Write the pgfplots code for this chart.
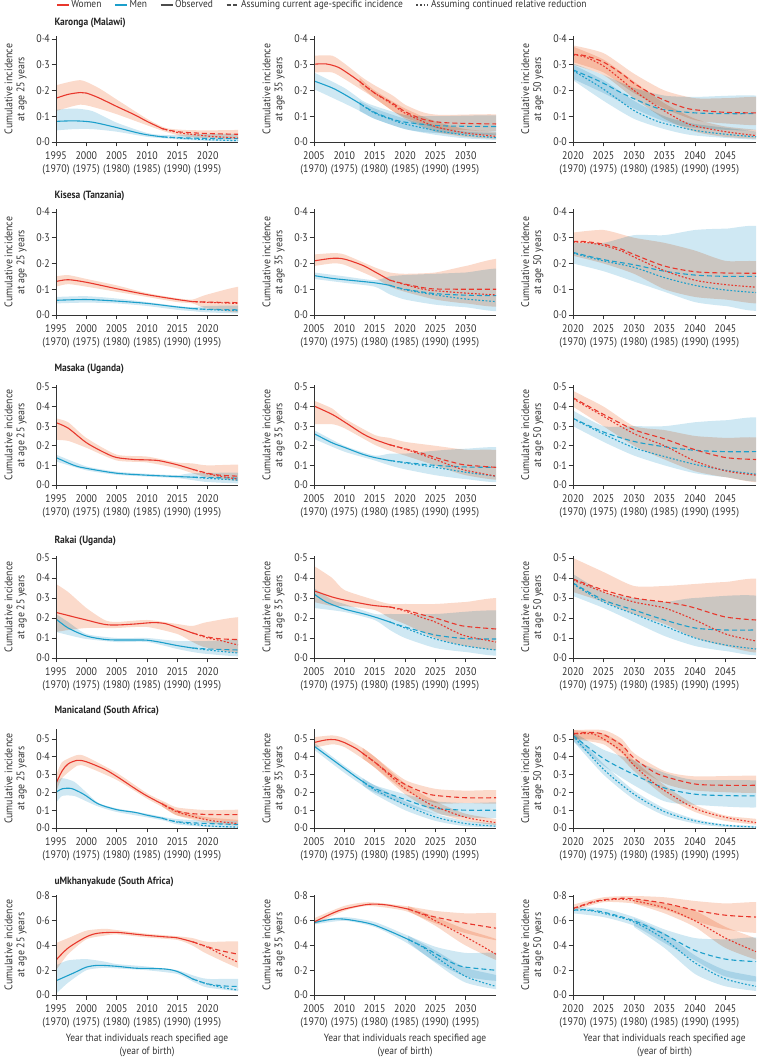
\documentclass[border=0pt]{standalone}
\usepackage{pgfplots}
\pgfplotsset{compat=1.18}
\usepackage{fontspec}
\setmainfont{PT Sans}[FakeStretch=0.9]

\definecolor{cwom}{HTML}{E8372C}
\definecolor{cmen}{HTML}{1C9FCB}
\definecolor{bwom}{HTML}{FBDACB}
\definecolor{bmen}{HTML}{CFE8F3}
\definecolor{axc}{HTML}{333333}

\pgfplotsset{
  base/.style={scale only axis, anchor=south west, axis lines=left, axis on top,
    axis line style={-, draw=axc, line width=0.8pt},
    tick align=outside, major tick length=4.5pt, tick style={axc, line width=0.8pt},
    tick label style={font=\fontsize{11}{12.5}\selectfont, text=axc},
    xticklabel style={align=center, inner sep=1.5pt, yshift=-3.5pt}, yticklabel style={inner sep=1.5pt},
    every axis y label/.style={at={(axis description cs:-0.16,0.5)}, rotate=90, anchor=south,
      align=center, inner sep=0pt, font=\fontsize{11}{12}\selectfont, text=axc}},
  c1/.style={xmin=1995, xmax=2025, width=182pt, xtick={1995,2000,2005,2010,2015,2020},
    xticklabels={{1995\\(1970)},{2000\\(1975)},{2005\\(1980)},{2010\\(1985)},{2015\\(1990)},{2020\\(1995)}},
    ylabel={Cumulative incidence\\at age 25 years}},
  c2/.style={xmin=2005, xmax=2035, width=182pt, xtick={2005,2010,2015,2020,2025,2030},
    xticklabels={{2005\\(1970)},{2010\\(1975)},{2015\\(1980)},{2020\\(1985)},{2025\\(1990)},{2030\\(1995)}},
    ylabel={Cumulative incidence\\at age 35 years}},
  c3/.style={xmin=2020, xmax=2050, width=183pt, xtick={2020,2025,2030,2035,2040,2045},
    xticklabels={{2020\\(1970)},{2025\\(1975)},{2030\\(1980)},{2035\\(1985)},{2040\\(1990)},{2045\\(1995)}},
    ylabel={Cumulative incidence\\at age 50 years}},
  r4/.style={ymin=0, ymax=0.41, ytick={0,0.1,0.2,0.3,0.4}, yticklabels={0·0,0·1,0·2,0·3,0·4}},
  r5/.style={ymin=0, ymax=0.51, ytick={0,0.1,0.2,0.3,0.4,0.5}, yticklabels={0·0,0·1,0·2,0·3,0·4,0·5}},
  r55/.style={ymin=0, ymax=0.555, ytick={0,0.1,0.2,0.3,0.4,0.5}, yticklabels={0·0,0·1,0·2,0·3,0·4,0·5}},
  r8/.style={ymin=0, ymax=0.81, ytick={0,0.2,0.4,0.6,0.8}, yticklabels={0·0,0·2,0·4,0·6,0·8}},
  bottom/.style={xlabel={Year that individuals reach specified age\\(year of birth)},
    every axis x label/.style={at={(axis description cs:0.5,-0.385)}, anchor=north, align=center,
      inner sep=0pt, font=\fontsize{10.5}{13}\selectfont, text=axc}},
  WB/.style={fill=bwom, draw=none, blend mode=multiply, smooth, tension=0.4, forget plot},
  MB/.style={fill=bmen, draw=none, blend mode=multiply, smooth, tension=0.4, forget plot},
  WS/.style={cwom, line width=1.1pt, smooth, forget plot},
  WD/.style={cwom, line width=1.1pt, smooth, dash pattern=on 5pt off 3pt, forget plot},
  WT/.style={cwom, line width=1.1pt, smooth, dash pattern=on 1.8pt off 1.8pt, forget plot},
  MS/.style={cmen, line width=1.1pt, smooth, forget plot},
  MD/.style={cmen, line width=1.1pt, smooth, dash pattern=on 5pt off 3pt, forget plot},
  MT/.style={cmen, line width=1.1pt, smooth, dash pattern=on 1.8pt off 1.8pt, forget plot},
}

\begin{document}
\begin{tikzpicture}
\useasboundingbox (0,0) rectangle (757pt,1057pt);

% legend
\begin{axis}[hide axis, scale only axis, width=5pt, height=5pt, xmin=0, xmax=1, ymin=0, ymax=1,
  at={(56pt,1052pt)}, anchor=west,
  legend style={at={(axis description cs:0,0.5)}, anchor=west, draw=none, fill=none, inner sep=0pt,
    font=\fontsize{10.5}{12}\selectfont, text=axc, legend columns=5,
    /tikz/every even column/.append style={column sep=11pt}},
  legend image code/.code={\draw[#1] (0pt,0pt) -- (12pt,0pt);}]
\addlegendimage{cwom, line width=1.1pt}\addlegendentry{Women}
\addlegendimage{cmen, line width=1.1pt}\addlegendentry{Men}
\addlegendimage{black!70, line width=1.1pt}\addlegendentry{Observed}
\addlegendimage{black!70, line width=1.1pt, dash pattern=on 4pt off 2.5pt}\addlegendentry{Assuming current age-specific incidence}
\addlegendimage{black!70, line width=1.1pt, dash pattern=on 1.8pt off 1.8pt}\addlegendentry{Assuming continued relative reduction}
\end{axis}

\begin{scope}[font=\bfseries\fontsize{10.5}{12}\selectfont]
\node[anchor=west, text=black!85] at (51pt,1034pt) {Karonga (Malawi)};
\node[anchor=west, text=black!85] at (51pt,861pt) {Kisesa (Tanzania)};
\node[anchor=west, text=black!85] at (51pt,688pt) {Masaka (Uganda)};
\node[anchor=west, text=black!85] at (51pt,516pt) {Rakai (Uganda)};
\node[anchor=west, text=black!85] at (51pt,346pt) {Manicaland (South Africa)};
\node[anchor=west, text=black!85] at (51pt,175pt) {uMkhanyakude (South Africa)};
\end{scope}

%================ Row 1: Karonga
\begin{axis}[base, c1, r4, height=105.6pt, at={(56pt,915pt)}]
\addplot[WB] coordinates {(1995,0.22)(1999,0.24)(2002,0.21)(2005,0.165)(2010,0.09)(2013,0.055)(2016,0.047)(2020,0.045)(2026.5,0.045)
 (2026.5,0.012)(2020,0.015)(2016,0.022)(2013,0.04)(2010,0.065)(2005,0.108)(2002,0.13)(1999,0.145)(1995,0.12)};
\addplot[MB] coordinates {(1995,0.125)(1998,0.13)(2001,0.12)(2005,0.075)(2010,0.035)(2013,0.027)(2018,0.03)(2026.5,0.03)
 (2026.5,0.002)(2018,0.006)(2013,0.014)(2010,0.02)(2005,0.04)(2001,0.05)(1998,0.05)(1995,0.045)};
\addplot[MS] coordinates {(1995,0.08)(1998,0.082)(2001,0.077)(2005,0.056)(2008,0.038)(2010,0.028)(2012.5,0.02)};
\addplot[MD] coordinates {(2012.5,0.02)(2016,0.016)(2020,0.014)(2025,0.013)};
\addplot[MT] coordinates {(2012.5,0.02)(2016,0.014)(2020,0.009)(2025,0.005)};
\addplot[WS] coordinates {(1995,0.17)(1997,0.185)(1999,0.192)(2000,0.19)(2002,0.172)(2005,0.138)(2008,0.105)(2010,0.08)(2012.5,0.052)};
\addplot[WD] coordinates {(2012.5,0.052)(2015,0.04)(2018,0.035)(2021,0.032)(2025,0.03)};
\addplot[WT] coordinates {(2012.5,0.052)(2015,0.037)(2018,0.028)(2021,0.021)(2025,0.016)};
\end{axis}

\begin{axis}[base, c2, r4, height=105.6pt, at={(314pt,915pt)}]
\addplot[WB] coordinates {(2005,0.335)(2008,0.335)(2010,0.305)(2013,0.25)(2015,0.22)(2018,0.18)(2020,0.145)(2023,0.115)(2026,0.105)(2036.5,0.105)
 (2036.5,0.045)(2030,0.046)(2026,0.05)(2023,0.07)(2020,0.095)(2018,0.12)(2015,0.17)(2013,0.2)(2010,0.245)(2008,0.27)(2005,0.27)};
\addplot[WB] coordinates {(2012.5,0.25)(2015,0.2)(2020,0.13)(2025,0.08)(2030,0.05)(2036.5,0.035)
 (2036.5,0.012)(2030,0.02)(2025,0.04)(2020,0.09)(2015,0.17)(2012.5,0.22)};
\addplot[MB] coordinates {(2005,0.27)(2010,0.21)(2013,0.16)(2015,0.14)(2020,0.105)(2025,0.1)(2036.5,0.1)
 (2036.5,0.03)(2025,0.035)(2020,0.05)(2015,0.09)(2013,0.115)(2010,0.15)(2005,0.205)};
\addplot[MB] coordinates {(2012.5,0.16)(2015,0.13)(2020,0.09)(2025,0.06)(2030,0.04)(2036.5,0.03)
 (2036.5,0.008)(2030,0.014)(2025,0.028)(2020,0.05)(2015,0.09)(2012.5,0.12)};
\addplot[MS] coordinates {(2005,0.237)(2008,0.21)(2010,0.185)(2012.5,0.15)};
\addplot[MD] coordinates {(2012.5,0.15)(2015,0.115)(2018,0.088)(2020,0.077)(2025,0.064)(2030,0.061)(2035,0.06)};
\addplot[MT] coordinates {(2012.5,0.15)(2015,0.112)(2018,0.085)(2020,0.07)(2025,0.045)(2030,0.027)(2035,0.017)};
\addplot[WS] coordinates {(2005,0.302)(2007,0.303)(2009,0.29)(2011,0.26)(2012.5,0.235)};
\addplot[WD] coordinates {(2012.5,0.235)(2015,0.19)(2018,0.15)(2020,0.118)(2023,0.088)(2026,0.076)(2030,0.072)(2035,0.07)};
\addplot[WT] coordinates {(2012.5,0.235)(2015,0.19)(2018,0.145)(2020,0.112)(2025,0.06)(2030,0.035)(2035,0.022)};
\end{axis}

\begin{axis}[base, c3, r4, height=105.6pt, at={(573pt,915pt)}]
\addplot[WB] coordinates {(2020,0.375)(2025,0.345)(2030,0.265)(2035,0.2)(2040,0.17)(2045,0.17)(2051.5,0.17)
 (2051.5,0.07)(2045,0.072)(2040,0.085)(2035,0.13)(2030,0.19)(2025,0.27)(2020,0.31)};
\addplot[WB] coordinates {(2020,0.37)(2025,0.32)(2030,0.235)(2035,0.15)(2040,0.09)(2045,0.06)(2051.5,0.042)
 (2051.5,0.013)(2045,0.02)(2040,0.04)(2035,0.09)(2030,0.17)(2025,0.26)(2020,0.3)};
\addplot[MB] coordinates {(2020,0.305)(2025,0.26)(2030,0.21)(2035,0.18)(2040,0.175)(2051.5,0.175)
 (2051.5,0.05)(2040,0.055)(2035,0.08)(2030,0.13)(2025,0.19)(2020,0.245)};
\addplot[MB] coordinates {(2020,0.3)(2025,0.24)(2030,0.16)(2035,0.1)(2040,0.07)(2051.5,0.035)
 (2051.5,0.008)(2040,0.025)(2035,0.05)(2030,0.09)(2025,0.16)(2020,0.24)};
\addplot[MD] coordinates {(2020,0.28)(2023,0.25)(2025,0.228)(2028,0.19)(2030,0.168)(2033,0.138)(2035,0.125)(2040,0.113)(2045,0.11)(2050,0.11)};
\addplot[MT] coordinates {(2020,0.277)(2023,0.235)(2025,0.205)(2028,0.155)(2030,0.122)(2033,0.088)(2035,0.072)(2040,0.045)(2045,0.03)(2050,0.02)};
\addplot[WD] coordinates {(2020,0.34)(2022,0.335)(2025,0.31)(2028,0.265)(2030,0.228)(2033,0.185)(2035,0.162)(2038,0.135)(2040,0.125)(2045,0.115)(2050,0.113)};
\addplot[WT] coordinates {(2020,0.338)(2022,0.33)(2025,0.295)(2028,0.24)(2030,0.2)(2033,0.15)(2035,0.12)(2038,0.08)(2040,0.062)(2045,0.04)(2050,0.025)};
\end{axis}

%================ Row 2: Kisesa
\begin{axis}[base, c1, r4, height=105.6pt, at={(56pt,742pt)}]
\addplot[WB] coordinates {(1995,0.15)(1997,0.155)(2000,0.14)(2005,0.115)(2010,0.085)(2015,0.065)(2017.5,0.06)(2020,0.08)(2026.5,0.112)
 (2026.5,0.012)(2020,0.025)(2017.5,0.045)(2015,0.05)(2010,0.07)(2005,0.09)(2000,0.11)(1997,0.12)(1995,0.11)};
\addplot[MB] coordinates {(1995,0.07)(2000,0.073)(2005,0.064)(2010,0.05)(2015,0.035)(2017.5,0.03)(2020,0.035)(2026.5,0.035)
 (2026.5,0.007)(2020,0.01)(2017.5,0.015)(2015,0.02)(2010,0.035)(2005,0.045)(2000,0.048)(1995,0.045)};
\addplot[MS] coordinates {(1995,0.057)(2000,0.06)(2005,0.054)(2010,0.045)(2015,0.031)(2017.5,0.025)};
\addplot[MD] coordinates {(2017.5,0.025)(2020,0.022)(2025,0.02)};
\addplot[MT] coordinates {(2017.5,0.025)(2020,0.021)(2025,0.017)};
\addplot[WS] coordinates {(1995,0.13)(1997,0.137)(2000,0.127)(2005,0.102)(2010,0.079)(2015,0.06)(2017.5,0.052)};
\addplot[WD] coordinates {(2017.5,0.052)(2020,0.05)(2025,0.048)};
\addplot[WT] coordinates {(2017.5,0.052)(2020,0.049)(2025,0.045)};
\end{axis}

\begin{axis}[base, c2, r4, height=105.6pt, at={(314pt,742pt)}]
\addplot[WB] coordinates {(2005,0.235)(2008,0.24)(2010,0.235)(2015,0.185)(2017.5,0.165)(2020,0.16)(2025,0.165)(2030,0.19)(2036.5,0.215)
 (2036.5,0.04)(2030,0.045)(2025,0.06)(2020,0.09)(2017.5,0.11)(2015,0.145)(2010,0.195)(2008,0.2)(2005,0.19)};
\addplot[MB] coordinates {(2005,0.165)(2010,0.15)(2015,0.135)(2017.5,0.15)(2020,0.155)(2025,0.16)(2030,0.165)(2036.5,0.175)
 (2036.5,0.02)(2030,0.03)(2025,0.04)(2020,0.06)(2017.5,0.08)(2015,0.11)(2010,0.125)(2005,0.14)};
\addplot[MS] coordinates {(2005,0.153)(2008,0.142)(2010,0.137)(2015,0.125)(2017.5,0.115)};
\addplot[MD] coordinates {(2017.5,0.115)(2020,0.1)(2025,0.083)(2030,0.077)(2035,0.075)};
\addplot[MT] coordinates {(2017.5,0.115)(2020,0.098)(2025,0.078)(2030,0.062)(2035,0.052)};
\addplot[WS] coordinates {(2005,0.21)(2008,0.22)(2010,0.217)(2013,0.193)(2015,0.168)(2017.5,0.135)};
\addplot[WD] coordinates {(2017.5,0.135)(2020,0.12)(2023,0.106)(2025,0.101)(2030,0.1)(2035,0.1)};
\addplot[WT] coordinates {(2017.5,0.135)(2020,0.118)(2023,0.1)(2025,0.094)(2030,0.085)(2035,0.078)};
\end{axis}

\begin{axis}[base, c3, r4, height=105.6pt, at={(573pt,742pt)}]
\addplot[WB] coordinates {(2020,0.32)(2025,0.33)(2030,0.3)(2035,0.28)(2040,0.25)(2045,0.21)(2051.5,0.2)
 (2051.5,0.05)(2045,0.06)(2040,0.07)(2035,0.1)(2030,0.16)(2025,0.2)(2020,0.23)};
\addplot[MB] coordinates {(2020,0.28)(2025,0.28)(2030,0.31)(2035,0.31)(2040,0.33)(2045,0.335)(2051.5,0.33)
 (2051.5,0.03)(2045,0.035)(2040,0.05)(2035,0.09)(2030,0.13)(2025,0.17)(2020,0.2)};
\addplot[MD] coordinates {(2020,0.243)(2025,0.215)(2030,0.195)(2035,0.17)(2040,0.155)(2045,0.15)(2050,0.15)};
\addplot[MT] coordinates {(2020,0.24)(2025,0.21)(2030,0.185)(2035,0.145)(2040,0.115)(2045,0.097)(2050,0.087)};
\addplot[WD] coordinates {(2020,0.285)(2022,0.285)(2025,0.275)(2028,0.255)(2030,0.235)(2035,0.19)(2040,0.168)(2045,0.163)(2050,0.162)};
\addplot[WT] coordinates {(2020,0.283)(2022,0.282)(2025,0.27)(2028,0.248)(2030,0.225)(2035,0.172)(2040,0.135)(2045,0.118)(2050,0.108)};
\end{axis}

%================ Row 3: Masaka
\begin{axis}[base, c1, r5, height=100pt, at={(56pt,572pt)}]
\addplot[WB] coordinates {(1995,0.34)(1997,0.32)(2000,0.24)(2005,0.155)(2010,0.145)(2015,0.115)(2017.5,0.11)(2020,0.1)(2026.5,0.1)
 (2026.5,0.02)(2020,0.04)(2017.5,0.06)(2015,0.085)(2010,0.115)(2005,0.125)(2000,0.19)(1997,0.225)(1995,0.23)};
\addplot[MB] coordinates {(1995,0.155)(2000,0.095)(2005,0.068)(2010,0.057)(2015,0.05)(2017.5,0.06)(2026.5,0.06)
 (2026.5,0.01)(2020,0.015)(2017.5,0.025)(2015,0.035)(2010,0.043)(2005,0.052)(2000,0.075)(1995,0.12)};
\addplot[MS] coordinates {(1995,0.14)(1998,0.1)(2000,0.085)(2005,0.06)(2010,0.05)(2015,0.043)(2017.5,0.04)};
\addplot[MD] coordinates {(2017.5,0.04)(2020,0.038)(2025,0.035)};
\addplot[MT] coordinates {(2017.5,0.04)(2020,0.034)(2025,0.025)};
\addplot[WS] coordinates {(1995,0.318)(1997,0.29)(2000,0.216)(2003,0.165)(2005,0.14)(2008,0.13)(2010,0.128)(2012,0.124)(2015,0.103)(2017.5,0.08)};
\addplot[WD] coordinates {(2017.5,0.08)(2020,0.06)(2022,0.05)(2025,0.045)};
\addplot[WT] coordinates {(2017.5,0.08)(2020,0.057)(2022,0.045)(2025,0.03)};
\end{axis}

\begin{axis}[base, c2, r5, height=100pt, at={(314pt,572pt)}]
\addplot[WB] coordinates {(2005,0.43)(2008,0.39)(2010,0.34)(2015,0.255)(2017.5,0.24)(2020,0.22)(2025,0.2)(2030,0.18)(2036.5,0.17)
 (2036.5,0.03)(2030,0.05)(2025,0.1)(2020,0.15)(2017.5,0.175)(2015,0.205)(2010,0.29)(2008,0.31)(2005,0.31)};
\addplot[MB] coordinates {(2005,0.28)(2010,0.2)(2015,0.15)(2017.5,0.16)(2020,0.16)(2025,0.175)(2030,0.185)(2036.5,0.185)
 (2036.5,0.02)(2030,0.03)(2025,0.05)(2020,0.08)(2017.5,0.1)(2015,0.125)(2010,0.17)(2005,0.235)};
\addplot[MS] coordinates {(2005,0.262)(2008,0.215)(2010,0.192)(2013,0.157)(2015,0.14)(2017.5,0.125)};
\addplot[MD] coordinates {(2017.5,0.125)(2020,0.115)(2025,0.1)(2030,0.092)(2035,0.09)};
\addplot[MT] coordinates {(2017.5,0.125)(2020,0.112)(2025,0.09)(2030,0.065)(2035,0.045)};
\addplot[WS] coordinates {(2005,0.403)(2008,0.36)(2010,0.322)(2013,0.262)(2015,0.232)(2017.5,0.205)};
\addplot[WD] coordinates {(2017.5,0.205)(2020,0.185)(2023,0.16)(2025,0.14)(2028,0.115)(2030,0.102)(2035,0.09)};
\addplot[WT] coordinates {(2017.5,0.205)(2020,0.183)(2023,0.152)(2025,0.13)(2028,0.095)(2030,0.075)(2035,0.045)};
\end{axis}

\begin{axis}[base, c3, r5, height=100pt, at={(573pt,572pt)}]
\addplot[WB] coordinates {(2020,0.48)(2025,0.4)(2030,0.3)(2035,0.28)(2040,0.25)(2045,0.24)(2051.5,0.23)
 (2051.5,0.02)(2045,0.04)(2040,0.07)(2035,0.13)(2030,0.2)(2025,0.3)(2020,0.4)};
\addplot[MB] coordinates {(2020,0.38)(2025,0.3)(2030,0.3)(2035,0.3)(2040,0.32)(2045,0.33)(2051.5,0.33)
 (2051.5,0.03)(2045,0.04)(2040,0.06)(2035,0.1)(2030,0.15)(2025,0.22)(2020,0.3)};
\addplot[MD] coordinates {(2020,0.34)(2025,0.27)(2030,0.222)(2035,0.195)(2040,0.177)(2045,0.17)(2050,0.17)};
\addplot[MT] coordinates {(2020,0.338)(2025,0.26)(2030,0.19)(2035,0.145)(2040,0.105)(2045,0.075)(2050,0.055)};
\addplot[WD] coordinates {(2020,0.445)(2025,0.36)(2030,0.282)(2035,0.235)(2040,0.18)(2045,0.14)(2050,0.13)};
\addplot[WT] coordinates {(2020,0.44)(2025,0.35)(2030,0.262)(2035,0.2)(2040,0.122)(2045,0.072)(2050,0.05)};
\end{axis}

%================ Row 4: Rakai
\begin{axis}[base, c1, r5, height=102pt, at={(56pt,399pt)}]
\addplot[WB] coordinates {(1995,0.37)(1997,0.33)(2000,0.25)(2003,0.19)(2005,0.18)(2010,0.19)(2015,0.17)(2017.5,0.16)(2020,0.18)(2026.5,0.2)
 (2026.5,0.03)(2020,0.05)(2017.5,0.08)(2015,0.12)(2010,0.155)(2005,0.15)(2003,0.15)(2000,0.15)(1997,0.14)(1995,0.13)};
\addplot[MB] coordinates {(1995,0.22)(1997,0.18)(2000,0.12)(2005,0.1)(2010,0.1)(2015,0.085)(2020,0.085)(2026.5,0.09)
 (2026.5,0.01)(2020,0.02)(2017.5,0.03)(2015,0.045)(2010,0.08)(2005,0.08)(2000,0.095)(1997,0.115)(1995,0.13)};
\addplot[MS] coordinates {(1995,0.195)(1997,0.15)(2000,0.11)(2003,0.093)(2005,0.09)(2008,0.09)(2010,0.089)(2012,0.08)(2015,0.062)(2017.5,0.05)};
\addplot[MD] coordinates {(2017.5,0.05)(2020,0.045)(2025,0.04)};
\addplot[MT] coordinates {(2017.5,0.05)(2020,0.04)(2025,0.025)};
\addplot[WS] coordinates {(1995,0.228)(1998,0.205)(2000,0.19)(2003,0.168)(2005,0.165)(2008,0.17)(2011,0.177)(2013,0.172)(2015,0.152)(2017.5,0.125)};
\addplot[WD] coordinates {(2017.5,0.125)(2020,0.105)(2022,0.096)(2025,0.092)};
\addplot[WT] coordinates {(2017.5,0.125)(2020,0.1)(2022,0.088)(2025,0.065)};
\end{axis}

\begin{axis}[base, c2, r5, height=102pt, at={(314pt,399pt)}]
\addplot[WB] coordinates {(2005,0.46)(2008,0.4)(2010,0.34)(2015,0.29)(2017.5,0.27)(2020,0.27)(2025,0.27)(2030,0.28)(2036.5,0.29)
 (2036.5,0.05)(2030,0.06)(2025,0.1)(2020,0.17)(2017.5,0.2)(2015,0.24)(2010,0.26)(2008,0.26)(2005,0.28)};
\addplot[MB] coordinates {(2005,0.35)(2008,0.29)(2010,0.27)(2015,0.22)(2017.5,0.22)(2025,0.22)(2036.5,0.23)
 (2036.5,0.02)(2030,0.03)(2025,0.05)(2020,0.1)(2017.5,0.14)(2015,0.19)(2010,0.23)(2005,0.25)};
\addplot[MS] coordinates {(2005,0.32)(2007,0.28)(2010,0.245)(2013,0.222)(2015,0.205)(2017.5,0.18)};
\addplot[MD] coordinates {(2017.5,0.18)(2020,0.155)(2025,0.115)(2030,0.097)(2035,0.095)};
\addplot[MT] coordinates {(2017.5,0.18)(2020,0.15)(2025,0.095)(2030,0.06)(2035,0.04)};
\addplot[WS] coordinates {(2005,0.336)(2008,0.305)(2010,0.29)(2013,0.272)(2015,0.262)(2017.5,0.255)};
\addplot[WD] coordinates {(2017.5,0.255)(2020,0.24)(2023,0.215)(2025,0.2)(2028,0.172)(2030,0.158)(2035,0.145)};
\addplot[WT] coordinates {(2017.5,0.255)(2020,0.235)(2023,0.2)(2025,0.18)(2028,0.135)(2030,0.11)(2035,0.08)};
\end{axis}

\begin{axis}[base, c3, r5, height=102pt, at={(573pt,399pt)}]
\addplot[WB] coordinates {(2020,0.5)(2025,0.43)(2030,0.36)(2035,0.36)(2040,0.37)(2045,0.38)(2051.5,0.38)
 (2051.5,0.04)(2045,0.06)(2040,0.1)(2035,0.17)(2030,0.22)(2025,0.28)(2020,0.33)};
\addplot[MB] coordinates {(2020,0.42)(2025,0.33)(2030,0.3)(2035,0.28)(2040,0.3)(2051.5,0.3)
 (2051.5,0.025)(2045,0.035)(2040,0.06)(2035,0.11)(2030,0.18)(2025,0.25)(2020,0.31)};
\addplot[MD] coordinates {(2020,0.375)(2025,0.29)(2030,0.24)(2035,0.19)(2040,0.15)(2045,0.14)(2050,0.14)};
\addplot[MT] coordinates {(2020,0.37)(2025,0.28)(2030,0.22)(2035,0.16)(2040,0.1)(2045,0.065)(2050,0.045)};
\addplot[WD] coordinates {(2020,0.395)(2025,0.34)(2030,0.3)(2035,0.28)(2038,0.265)(2040,0.25)(2045,0.205)(2050,0.19)};
\addplot[WT] coordinates {(2020,0.39)(2025,0.33)(2030,0.28)(2035,0.25)(2040,0.19)(2045,0.12)(2050,0.085)};
\end{axis}

%================ Row 5: Manicaland
\begin{axis}[base, c1, r55, height=98.8pt, at={(56pt,229pt)}]
\addplot[WB] coordinates {(1995,0.29)(1996,0.37)(1998.5,0.41)(2000,0.4)(2005,0.31)(2010,0.195)(2013,0.145)(2015,0.115)(2020,0.1)(2026.5,0.1)
 (2026.5,0.04)(2020,0.045)(2015,0.07)(2013,0.11)(2010,0.165)(2005,0.27)(2000,0.345)(1998.5,0.35)(1996,0.28)(1995,0.2)};
\addplot[WB] coordinates {(2012.5,0.145)(2015,0.1)(2020,0.06)(2026.5,0.04)
 (2026.5,0.01)(2020,0.03)(2015,0.07)(2012.5,0.12)};
\addplot[MB] coordinates {(1995,0.26)(1996,0.28)(1998,0.26)(2000,0.2)(2002,0.14)(2005,0.11)(2010,0.08)(2013,0.06)(2015,0.05)(2020,0.04)(2026.5,0.035)
 (2026.5,0.0)(2020,0.005)(2015,0.02)(2013,0.04)(2010,0.06)(2005,0.09)(2002,0.12)(2000,0.15)(1998,0.18)(1996,0.18)(1995,0.14)};
\addplot[MS] coordinates {(1995,0.2)(1996,0.22)(1997.5,0.222)(1999,0.2)(2000,0.18)(2002,0.135)(2005,0.103)(2008,0.088)(2010,0.072)(2012.5,0.055)};
\addplot[MD] coordinates {(2012.5,0.055)(2015,0.035)(2020,0.025)(2025,0.02)};
\addplot[MT] coordinates {(2012.5,0.055)(2015,0.033)(2020,0.012)(2025,0.005)};
\addplot[WS] coordinates {(1995,0.25)(1996,0.32)(1997,0.36)(1998.5,0.38)(2000,0.372)(2003,0.33)(2005,0.29)(2008,0.222)(2010,0.18)(2012.5,0.135)};
\addplot[WD] coordinates {(2012.5,0.135)(2015,0.095)(2017,0.082)(2020,0.076)(2025,0.075)};
\addplot[WT] coordinates {(2012.5,0.135)(2015,0.09)(2020,0.045)(2025,0.025)};
\end{axis}

\begin{axis}[base, c2, r55, height=98.8pt, at={(314pt,229pt)}]
\addplot[WB] coordinates {(2005,0.51)(2008,0.52)(2010,0.505)(2013,0.45)(2015,0.4)(2020,0.27)(2025,0.22)(2030,0.21)(2036.5,0.21)
 (2036.5,0.14)(2030,0.14)(2025,0.14)(2020,0.21)(2015,0.34)(2013,0.39)(2010,0.455)(2008,0.47)(2005,0.45)};
\addplot[WB] coordinates {(2013,0.45)(2015,0.4)(2020,0.25)(2025,0.15)(2030,0.08)(2036.5,0.04)
 (2036.5,0.012)(2030,0.04)(2025,0.09)(2020,0.19)(2015,0.34)(2013,0.39)};
\addplot[MB] coordinates {(2005,0.48)(2010,0.35)(2013,0.28)(2015,0.24)(2020,0.19)(2025,0.15)(2030,0.14)(2036.5,0.14)
 (2036.5,0.06)(2030,0.06)(2025,0.08)(2020,0.13)(2015,0.2)(2013,0.24)(2010,0.31)(2005,0.44)};
\addplot[MB] coordinates {(2013,0.28)(2015,0.24)(2020,0.15)(2025,0.08)(2030,0.04)(2036.5,0.02)
 (2036.5,0.003)(2030,0.01)(2025,0.04)(2020,0.1)(2015,0.19)(2013,0.24)};
\addplot[MS] coordinates {(2005,0.46)(2007,0.41)(2010,0.335)(2012,0.285)(2013,0.262)};
\addplot[MD] coordinates {(2013,0.262)(2015,0.222)(2020,0.16)(2023,0.125)(2025,0.11)(2030,0.1)(2035,0.1)};
\addplot[MT] coordinates {(2013,0.262)(2015,0.215)(2020,0.13)(2025,0.062)(2030,0.025)(2035,0.01)};
\addplot[WS] coordinates {(2005,0.48)(2007,0.495)(2008.5,0.496)(2010,0.48)(2012,0.445)(2013,0.42)};
\addplot[WD] coordinates {(2013,0.42)(2015,0.37)(2018,0.29)(2020,0.245)(2023,0.2)(2025,0.183)(2030,0.17)(2035,0.17)};
\addplot[WT] coordinates {(2013,0.42)(2015,0.37)(2018,0.28)(2020,0.222)(2023,0.155)(2025,0.12)(2030,0.06)(2035,0.03)};
\end{axis}

\begin{axis}[base, c3, r55, height=98.8pt, at={(573pt,229pt)}]
\addplot[WB] coordinates {(2020,0.55)(2025,0.55)(2028,0.5)(2030,0.42)(2035,0.32)(2040,0.29)(2051.5,0.29)
 (2051.5,0.2)(2040,0.21)(2035,0.25)(2030,0.35)(2028,0.42)(2025,0.49)(2020,0.5)};
\addplot[WB] coordinates {(2020,0.55)(2025,0.53)(2028,0.47)(2030,0.38)(2035,0.24)(2040,0.13)(2045,0.07)(2051.5,0.045)
 (2051.5,0.015)(2045,0.04)(2040,0.09)(2035,0.18)(2030,0.32)(2028,0.39)(2025,0.47)(2020,0.5)};
\addplot[MB] coordinates {(2020,0.54)(2025,0.44)(2030,0.38)(2035,0.31)(2040,0.27)(2051.5,0.26)
 (2051.5,0.12)(2040,0.13)(2035,0.15)(2030,0.24)(2025,0.35)(2020,0.49)};
\addplot[MB] coordinates {(2020,0.54)(2025,0.36)(2030,0.21)(2035,0.11)(2040,0.05)(2045,0.02)(2051.5,0.01)
 (2051.5,0.001)(2045,0.005)(2040,0.025)(2035,0.07)(2030,0.16)(2025,0.3)(2020,0.49)};
\addplot[MD] coordinates {(2020,0.52)(2025,0.39)(2030,0.3)(2035,0.225)(2040,0.19)(2045,0.182)(2050,0.18)};
\addplot[MT] coordinates {(2020,0.518)(2025,0.33)(2030,0.19)(2035,0.092)(2040,0.04)(2045,0.015)(2050,0.005)};
\addplot[WD] coordinates {(2020,0.53)(2023,0.537)(2025,0.525)(2028,0.465)(2030,0.392)(2033,0.32)(2035,0.29)(2040,0.247)(2045,0.24)(2050,0.24)};
\addplot[WT] coordinates {(2020,0.527)(2023,0.53)(2025,0.5)(2028,0.43)(2030,0.352)(2033,0.26)(2035,0.21)(2040,0.11)(2045,0.06)(2050,0.03)};
\end{axis}

%================ Row 6: uMkhanyakude
\begin{axis}[base, c1, r8, bottom, height=100.2pt, at={(56pt,62pt)}]
\addplot[WB] coordinates {(1995,0.42)(1997,0.46)(2000,0.52)(2003,0.535)(2005,0.525)(2010,0.495)(2015,0.475)(2017.5,0.46)(2020,0.43)(2026.5,0.42)
 (2026.5,0.2)(2020,0.33)(2017.5,0.4)(2015,0.445)(2010,0.465)(2005,0.49)(2003,0.48)(2000,0.45)(1997,0.33)(1995,0.2)};
\addplot[MB] coordinates {(1995,0.24)(1997,0.28)(2000,0.29)(2003,0.27)(2005,0.25)(2010,0.23)(2015,0.2)(2017.5,0.16)(2020,0.13)(2026.5,0.125)
 (2026.5,0.03)(2020,0.06)(2017.5,0.11)(2015,0.17)(2010,0.2)(2005,0.215)(2003,0.22)(2000,0.2)(1997,0.1)(1995,0.01)};
\addplot[MS] coordinates {(1995,0.115)(1998,0.18)(2000,0.225)(2002,0.24)(2005,0.232)(2008,0.217)(2010,0.215)(2013,0.21)(2015,0.19)(2017.5,0.13)};
\addplot[MD] coordinates {(2017.5,0.13)(2020,0.09)(2023,0.072)(2025,0.07)};
\addplot[MT] coordinates {(2017.5,0.13)(2020,0.088)(2023,0.055)(2025,0.04)};
\addplot[WS] coordinates {(1995,0.282)(1997,0.38)(2000,0.47)(2002,0.5)(2005,0.506)(2008,0.492)(2010,0.482)(2013,0.47)(2015,0.462)(2017.5,0.43)};
\addplot[WD] coordinates {(2017.5,0.43)(2020,0.39)(2022,0.36)(2025,0.33)};
\addplot[WT] coordinates {(2017.5,0.43)(2020,0.385)(2022,0.335)(2025,0.265)};
\end{axis}

\begin{axis}[base, c2, r8, bottom, height=100.2pt, at={(314pt,62pt)}]
\addplot[WB] coordinates {(2005,0.62)(2010,0.72)(2014,0.75)(2020,0.72)(2025,0.68)(2030,0.66)(2036.5,0.65)
 (2036.5,0.44)(2030,0.5)(2025,0.58)(2020,0.68)(2014,0.72)(2010,0.68)(2005,0.57)};
\addplot[WB] coordinates {(2020.5,0.72)(2025,0.63)(2030,0.53)(2036.5,0.42)
 (2036.5,0.26)(2030,0.4)(2025,0.56)(2020.5,0.68)};
\addplot[MB] coordinates {(2005,0.6)(2010,0.63)(2015,0.59)(2020,0.49)(2025,0.39)(2030,0.34)(2036.5,0.33)
 (2036.5,0.12)(2030,0.15)(2025,0.27)(2020,0.43)(2015,0.55)(2010,0.6)(2005,0.57)};
\addplot[MB] coordinates {(2020.5,0.48)(2025,0.36)(2030,0.22)(2036.5,0.14)
 (2036.5,0.04)(2030,0.1)(2025,0.26)(2020.5,0.43)};
\addplot[MS] coordinates {(2005,0.585)(2008,0.613)(2010,0.613)(2013,0.59)(2015,0.565)(2018,0.505)(2020.5,0.45)};
\addplot[MD] coordinates {(2020.5,0.45)(2023,0.39)(2025,0.335)(2028,0.255)(2030,0.225)(2035,0.2)};
\addplot[MT] coordinates {(2020.5,0.45)(2023,0.385)(2025,0.31)(2030,0.15)(2035,0.07)};
\addplot[WS] coordinates {(2005,0.59)(2008,0.66)(2010,0.695)(2014,0.733)(2017,0.728)(2020.5,0.695)};
\addplot[WD] coordinates {(2020.5,0.695)(2023,0.655)(2025,0.63)(2030,0.58)(2035,0.54)};
\addplot[WT] coordinates {(2020.5,0.695)(2023,0.65)(2025,0.6)(2030,0.47)(2035,0.33)};
\end{axis}

\begin{axis}[base, c3, r8, bottom, height=100.2pt, at={(573pt,62pt)}]
\addplot[WB] coordinates {(2020,0.73)(2025,0.79)(2030,0.8)(2035,0.79)(2040,0.76)(2045,0.74)(2051.5,0.74)
 (2051.5,0.51)(2045,0.53)(2040,0.6)(2035,0.69)(2030,0.74)(2025,0.75)(2020,0.68)};
\addplot[WB] coordinates {(2030,0.78)(2035,0.74)(2040,0.68)(2045,0.55)(2051.5,0.42)
 (2051.5,0.27)(2045,0.38)(2040,0.55)(2035,0.66)(2030,0.74)};
\addplot[MB] coordinates {(2020,0.71)(2025,0.7)(2030,0.63)(2035,0.53)(2040,0.46)(2045,0.45)(2051.5,0.45)
 (2051.5,0.12)(2045,0.15)(2040,0.28)(2035,0.42)(2030,0.56)(2025,0.63)(2020,0.66)};
\addplot[MB] coordinates {(2030,0.62)(2035,0.5)(2040,0.32)(2045,0.2)(2051.5,0.13)
 (2051.5,0.03)(2045,0.07)(2040,0.17)(2035,0.38)(2030,0.55)};
\addplot[MD] coordinates {(2020,0.685)(2022,0.69)(2025,0.67)(2030,0.6)(2035,0.49)(2040,0.36)(2045,0.29)(2050,0.27)};
\addplot[MT] coordinates {(2020,0.683)(2022,0.687)(2025,0.66)(2030,0.59)(2035,0.45)(2040,0.26)(2045,0.13)(2050,0.07)};
\addplot[WD] coordinates {(2020,0.7)(2023,0.75)(2025,0.77)(2028,0.782)(2030,0.777)(2035,0.742)(2040,0.685)(2045,0.645)(2050,0.63)};
\addplot[WT] coordinates {(2020,0.695)(2023,0.745)(2025,0.765)(2028,0.775)(2030,0.762)(2035,0.705)(2040,0.6)(2045,0.46)(2050,0.35)};
\end{axis}
\end{tikzpicture}
\end{document}
